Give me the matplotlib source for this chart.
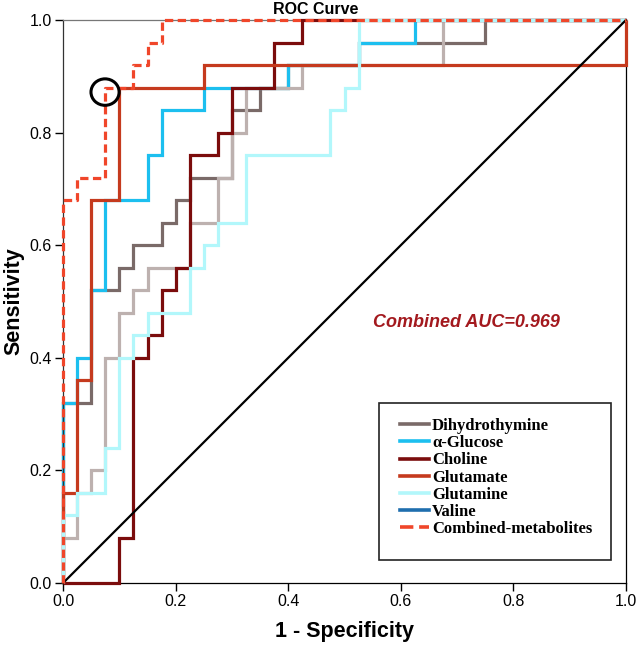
import matplotlib
matplotlib.use("Agg")
import matplotlib.pyplot as plt
from matplotlib.lines import Line2D
from matplotlib.patches import Ellipse, Rectangle

# ROC step vertices (1 - specificity, sensitivity)
names = ["Dihydrothymine", "\u03b1-Glucose", "Choline", "Glutamate",
         "Glutamine", "Valine", "Combined-metabolites"]

dihydrothymine_fpr = [0, 0, 0.05, 0.05, 0.1, 0.1, 0.125, 0.125, 0.175, 0.175, 0.2, 0.2,
                      0.225, 0.225, 0.3, 0.3, 0.35, 0.35, 0.4, 0.4, 0.525, 0.525, 0.75, 0.75, 1]
dihydrothymine_tpr = [0, 0.32, 0.32, 0.52, 0.52, 0.56, 0.56, 0.60, 0.60, 0.64, 0.64, 0.68,
                      0.68, 0.72, 0.72, 0.84, 0.84, 0.88, 0.88, 0.92, 0.92, 0.96, 0.96, 1, 1]

glucose_fpr = [0, 0, 0.025, 0.025, 0.05, 0.05, 0.075, 0.075, 0.15, 0.15, 0.175, 0.175,
               0.25, 0.25, 0.4, 0.4, 0.525, 0.525, 0.625, 0.625, 1]
glucose_tpr = [0, 0.32, 0.32, 0.40, 0.40, 0.52, 0.52, 0.68, 0.68, 0.76, 0.76, 0.84,
               0.84, 0.88, 0.88, 0.92, 0.92, 0.96, 0.96, 1, 1]

choline_fpr = [0, 0.1, 0.1, 0.125, 0.125, 0.15, 0.15, 0.175, 0.175, 0.2, 0.2, 0.225,
               0.225, 0.275, 0.275, 0.3, 0.3, 0.375, 0.375, 0.425, 0.425, 1]
choline_tpr = [0, 0, 0.08, 0.08, 0.40, 0.40, 0.44, 0.44, 0.52, 0.52, 0.56, 0.56,
               0.76, 0.76, 0.80, 0.80, 0.88, 0.88, 0.96, 0.96, 1, 1]

glutamate_fpr = [0, 0, 0.025, 0.025, 0.05, 0.05, 0.1, 0.1, 0.25, 0.25, 1, 1]
glutamate_tpr = [0, 0.16, 0.16, 0.36, 0.36, 0.68, 0.68, 0.88, 0.88, 0.92, 0.92, 1]

glutamine_fpr = [0, 0, 0.025, 0.025, 0.075, 0.075, 0.1, 0.1, 0.125, 0.125, 0.15, 0.15,
                 0.225, 0.225, 0.25, 0.25, 0.275, 0.275, 0.325, 0.325, 0.475, 0.475,
                 0.5, 0.5, 0.525, 0.525, 1]
glutamine_tpr = [0, 0.12, 0.12, 0.16, 0.16, 0.24, 0.24, 0.40, 0.40, 0.44, 0.44, 0.48,
                 0.48, 0.56, 0.56, 0.60, 0.60, 0.64, 0.64, 0.76, 0.76, 0.84,
                 0.84, 0.88, 0.88, 1, 1]

valine_fpr = [0, 0, 0.025, 0.025, 0.05, 0.05, 0.075, 0.075, 0.1, 0.1, 0.125, 0.125,
              0.15, 0.15, 0.225, 0.225, 0.275, 0.275, 0.3, 0.3, 0.325, 0.325,
              0.425, 0.425, 0.675, 0.675, 1]
valine_tpr = [0, 0.08, 0.08, 0.16, 0.16, 0.2, 0.2, 0.40, 0.40, 0.48, 0.48, 0.52,
              0.52, 0.56, 0.56, 0.64, 0.64, 0.72, 0.72, 0.80, 0.80, 0.88,
              0.88, 0.92, 0.92, 1, 1]

combined_fpr = [0, 0, 0.025, 0.025, 0.075, 0.075, 0.125, 0.125, 0.15, 0.15, 0.175, 0.175, 1]
combined_tpr = [0, 0.68, 0.68, 0.72, 0.72, 0.88, 0.88, 0.92, 0.92, 0.96, 0.96, 1, 1]

combined_auc = 0.969
ticks = [0.0, 0.2, 0.4, 0.6, 0.8, 1.0]

curves = [
    (dihydrothymine_fpr, dihydrothymine_tpr, "#7a6a68", "-", 1.0),
    (glucose_fpr, glucose_tpr, "#1cbfef", "-", 2.0),
    (valine_fpr, valine_tpr, "#bdb1af", "-", 2.5),
    (choline_fpr, choline_tpr, "#7b0c0c", "-", 3.0),
    (glutamate_fpr, glutamate_tpr, "#c53a1e", "-", 4.0),
    (glutamine_fpr, glutamine_tpr, "#b2f7fb", "-", 5.0),
    (combined_fpr, combined_tpr, "#f0462a", (0, (2.6, 1.4)), 7.0),
]
legend_colors = ["#7a6a68", "#1cbfef", "#7b0c0c", "#c53a1e", "#b2f7fb", "#1f6eae", "#f0462a"]

fig = plt.figure(figsize=(6.37, 6.48), dpi=100)
ax = fig.add_axes([0.099, 0.1003, 0.8837, 0.8688])

ax.plot([0, 1], [0, 1], color="black", lw=1.6, zorder=6, clip_on=False)
for fpr, tpr, color, ls, z in curves:
    ax.plot(fpr, tpr, color=color, lw=2.3, ls=ls, zorder=z, clip_on=False,
            solid_joinstyle="miter", solid_capstyle="butt")

ax.add_patch(Ellipse((0.0746, 0.872), 0.05, 0.047, fill=False, ec="black", lw=2.2, zorder=8))

ax.set_xlim(0, 1)
ax.set_ylim(0, 1)
ax.set_xticks(ticks)
ax.set_yticks(ticks)
ax.set_xticklabels([f"{t:.1f}" for t in ticks])
ax.set_yticklabels([f"{t:.1f}" for t in ticks])
ax.tick_params(direction="out", length=6, width=1, labelsize=11.5, pad=2)
for lab in ax.get_xticklabels() + ax.get_yticklabels():
    lab.set_family("Liberation Sans")
for side in ["left", "bottom", "right", "top"]:
    ax.spines[side].set_linewidth(0.9)
ax.spines["left"].set_color("#333333")
ax.spines["top"].set_color("#777777")

ax.set_xlabel("1 - Specificity", family="Liberation Sans",
              fontsize=15.5, fontweight="bold")
ax.xaxis.set_label_coords(0.5, -0.068)
ax.set_ylabel("Sensitivity", family="Liberation Sans",
              fontsize=15.5, fontweight="bold")
ax.yaxis.set_label_coords(-0.068, 0.5)
ax.text(0.448, 1.019, "ROC Curve", transform=ax.transAxes, ha="center", va="center",
        fontsize=11.5, fontweight="bold", family="Liberation Sans")

ax.text(0.55, 0.462, f"Combined AUC={combined_auc:.3f}", color="#a3191e",
        fontsize=13, fontweight="bold", fontstyle="italic", family="Liberation Sans",
        va="center", ha="left")

# legend box
ax.add_patch(Rectangle((0.561, 0.041), 0.412, 0.279, transform=ax.transAxes,
                       fill=False, ec="#222222", lw=1.2, zorder=9))
handles = [Line2D([], [], color=c, lw=2.6, ls=("--" if i == 6 else "-"))
           for i, c in enumerate(legend_colors)]
leg = ax.legend(handles, names, loc="upper left", bbox_to_anchor=(0.599, 0.293),
                frameon=False, borderaxespad=0, borderpad=0, handlelength=1.7,
                handletextpad=0.2, labelspacing=0.07,
                prop={"family": "Liberation Serif", "weight": "bold", "size": 12})
leg.set_zorder(10)

fig.savefig("out.png", dpi=100)
